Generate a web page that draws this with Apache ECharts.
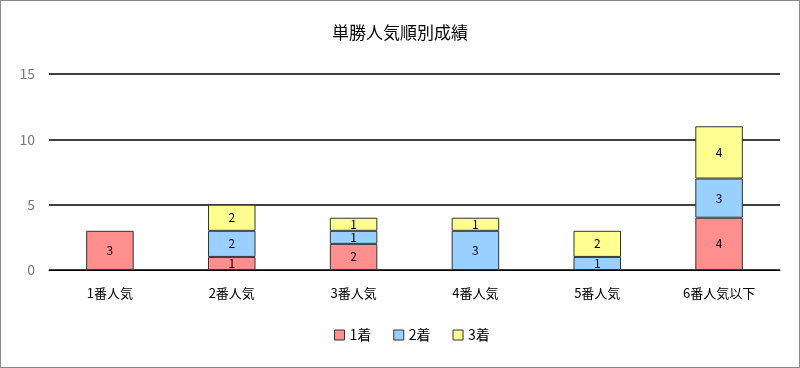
<!DOCTYPE html>
<html><head><meta charset="utf-8">
<script src="https://cdn.jsdelivr.net/npm/echarts@6/dist/echarts.min.js"></script>
<style>html,body{margin:0;padding:0;background:#fff}#c{width:798px;height:366px;border:1px solid #898989}</style>
</head><body><div id="c"></div>
<script>
var categories = ['1番人気','2番人気','3番人気','4番人気','5番人気','6番人気以下'];
var first = [3,1,2,0,0,4];
var second = [0,2,1,3,1,3];
var third = [0,2,1,1,2,4];
var seriesNames = ['1着','2着','3着'];
var colors = ['#FF8E8E','#99D0FF','#FFFF91'];
var yTicks = [0,5,10,15];

var font = '"Noto Sans CJK JP", "Noto Sans", sans-serif';
var chart = echarts.init(document.getElementById('c'));
function mk(name, data, color){
  return {
    name: name, type: 'bar', stack: 's',
    data: data.map(function(v){ return v === 0 ? '-' : v; }), barWidth: '39%',
    itemStyle: {color: color, borderColor: '#333', borderWidth: 1},
    label: {show: true, position: 'inside', color: '#000', fontSize: 12, fontFamily: font},
    emphasis: {disabled: true}
  };
}
chart.setOption({
  animation: false,
  color: colors,
  title: {text: '単勝人気順別成績', left: 'center', top: 18,
    textStyle: {fontSize: 17, fontWeight: 'normal', color: '#000', fontFamily: font}},
  legend: {bottom: 20, left: 328, icon: 'rect', itemWidth: 10, itemHeight: 10, itemGap: 22,
    textStyle: {fontSize: 14, color: '#000', fontFamily: font},
    data: seriesNames.map(function(n,i){return {name:n, itemStyle:{borderColor:'#333', borderWidth:1}};})},
  grid: {left: 48, right: 19, top: 73, bottom: 97},
  xAxis: {type: 'category', data: categories,
    axisLine: {show: true, lineStyle: {color: '#000', width: 1}},
    axisTick: {show: false},
    axisLabel: {color: '#000', fontSize: 13, fontFamily: font, margin: 17}},
  yAxis: {type: 'value', min: yTicks[0], max: yTicks[yTicks.length-1], interval: 5,
    axisLine: {show: false}, axisTick: {show: false},
    splitLine: {lineStyle: {color: '#000', width: 1.5}},
    axisLabel: {color: '#777', fontSize: 14, fontFamily: font, margin: 14}},
  series: [mk(seriesNames[0], first, colors[0]), mk(seriesNames[1], second, colors[1]), mk(seriesNames[2], third, colors[2])]
});
</script></body></html>
